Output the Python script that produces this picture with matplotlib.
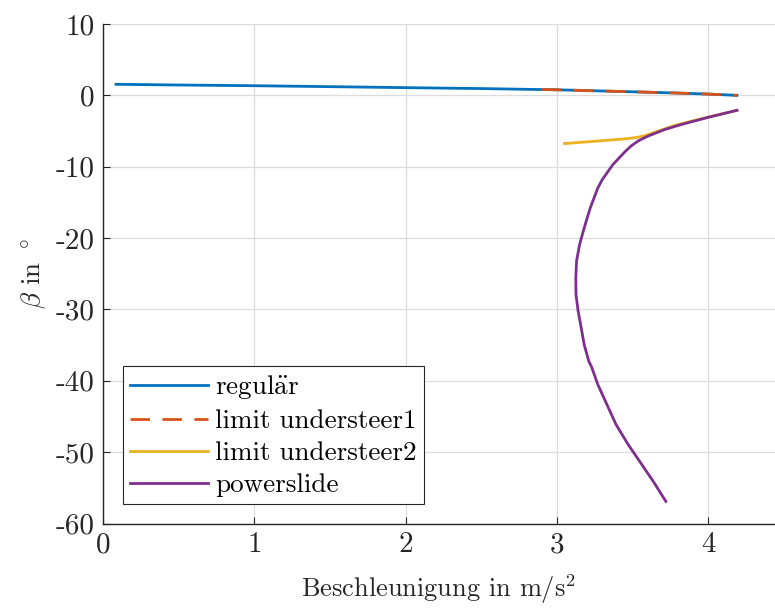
import matplotlib
matplotlib.use("Agg")
import matplotlib.pyplot as plt

plt.rcParams['font.family'] = 'serif'
plt.rcParams['font.serif'] = ['cmr10', 'DejaVu Serif']
plt.rcParams['mathtext.fontset'] = 'cm'
plt.rcParams['axes.unicode_minus'] = False

# Data
reg_x = [0.086, 0.5, 1.0, 1.5, 2.0, 2.5, 3.0, 3.5, 3.8, 4.0, 4.19]
reg_y = [1.55, 1.45, 1.35, 1.22, 1.08, 0.95, 0.78, 0.5, 0.32, 0.18, 0.0]

lu1_x = [2.9, 3.0, 3.5, 3.8, 4.0, 4.19]
lu1_y = [0.83, 0.78, 0.5, 0.32, 0.18, 0.0]

lu2_x = [3.05, 3.27, 3.45, 3.53, 3.58, 3.63, 3.67, 3.78, 3.93, 4.05, 4.19]
lu2_y = [-6.76, -6.4, -6.1, -5.9, -5.65, -5.3, -5.0, -4.2, -3.4, -2.8, -2.1]

ps_x = [4.19, 4.0, 3.82, 3.71, 3.60, 3.54, 3.49, 3.45, 3.41, 3.37, 3.34, 3.30,
        3.27, 3.22, 3.18, 3.15, 3.13, 3.125, 3.126, 3.14, 3.16, 3.18, 3.21,
        3.23, 3.27, 3.33, 3.39, 3.47, 3.56, 3.64, 3.72]
ps_y = [-2.1, -3.08, -4.1, -4.8, -5.73, -6.35, -7.1, -7.9, -8.8, -9.7, -10.6, -11.8,
        -13.0, -15.8, -18.6, -20.9, -23.2, -25.6, -27.9, -30.2, -32.5, -34.9, -37.2,
        -38.1, -40.5, -43.3, -46.1, -48.9, -51.7, -54.2, -56.9]

labels = [r'$\mathrm{regul\ddot{a}r}$', 'limit understeer1', 'limit understeer2', 'powerslide']
colors = ['#0072BD', '#D95319', '#EDB120', '#7E2F8E']

xticks = [0, 1, 2, 3, 4]
yticks = [10, 0, -10, -20, -30, -40, -50, -60]

fig = plt.figure(figsize=(7.75, 6.1), dpi=100)
ax = fig.add_axes([103/775, 1-523.5/610, 672/775, 499.5/610])

ax.plot(reg_x, reg_y, color=colors[0], lw=2.0, label=labels[0])
ax.plot(lu1_x, lu1_y, color=colors[1], lw=2.0, ls=(0, (7, 4.5)), label=labels[1])
ax.plot(lu2_x, lu2_y, color=colors[2], lw=2.0, label=labels[2])
ax.plot(ps_x, ps_y, color=colors[3], lw=2.0, label=labels[3])

ax.set_xlim(0, 672/151.3)
ax.set_ylim(-60, 10)
ax.set_xticks(xticks)
ax.set_xticklabels([str(t) for t in xticks])
ax.set_yticks(yticks)
ax.set_yticklabels([str(t) for t in yticks])

for s in ['top', 'right']:
    ax.spines[s].set_visible(False)
for s in ['left', 'bottom']:
    ax.spines[s].set_color('#262626')
    ax.spines[s].set_linewidth(1.0)

ax.tick_params(direction='in', length=5, width=0.8, colors='#262626', labelsize=21, pad=6)
ax.grid(True, color='#dcdcdc', lw=0.9)
ax.set_axisbelow(True)

ax.set_xlabel(r'Beschleunigung in $\mathrm{m/s}^2$', fontsize=19, color='#262626', labelpad=10)
ax.set_ylabel(r'$\beta$ in $^\circ$', fontsize=19.5, color='#262626', labelpad=5)

leg = ax.legend(loc='lower left', bbox_to_anchor=(0.03, 0.039), fontsize=19.5,
                frameon=True, fancybox=False, framealpha=1, edgecolor='#262626',
                handlelength=2.9, handletextpad=0.25, borderpad=0.25, labelspacing=0.3,
                borderaxespad=0)
leg.get_frame().set_linewidth(0.8)

fig.savefig('out.png', dpi=100)
